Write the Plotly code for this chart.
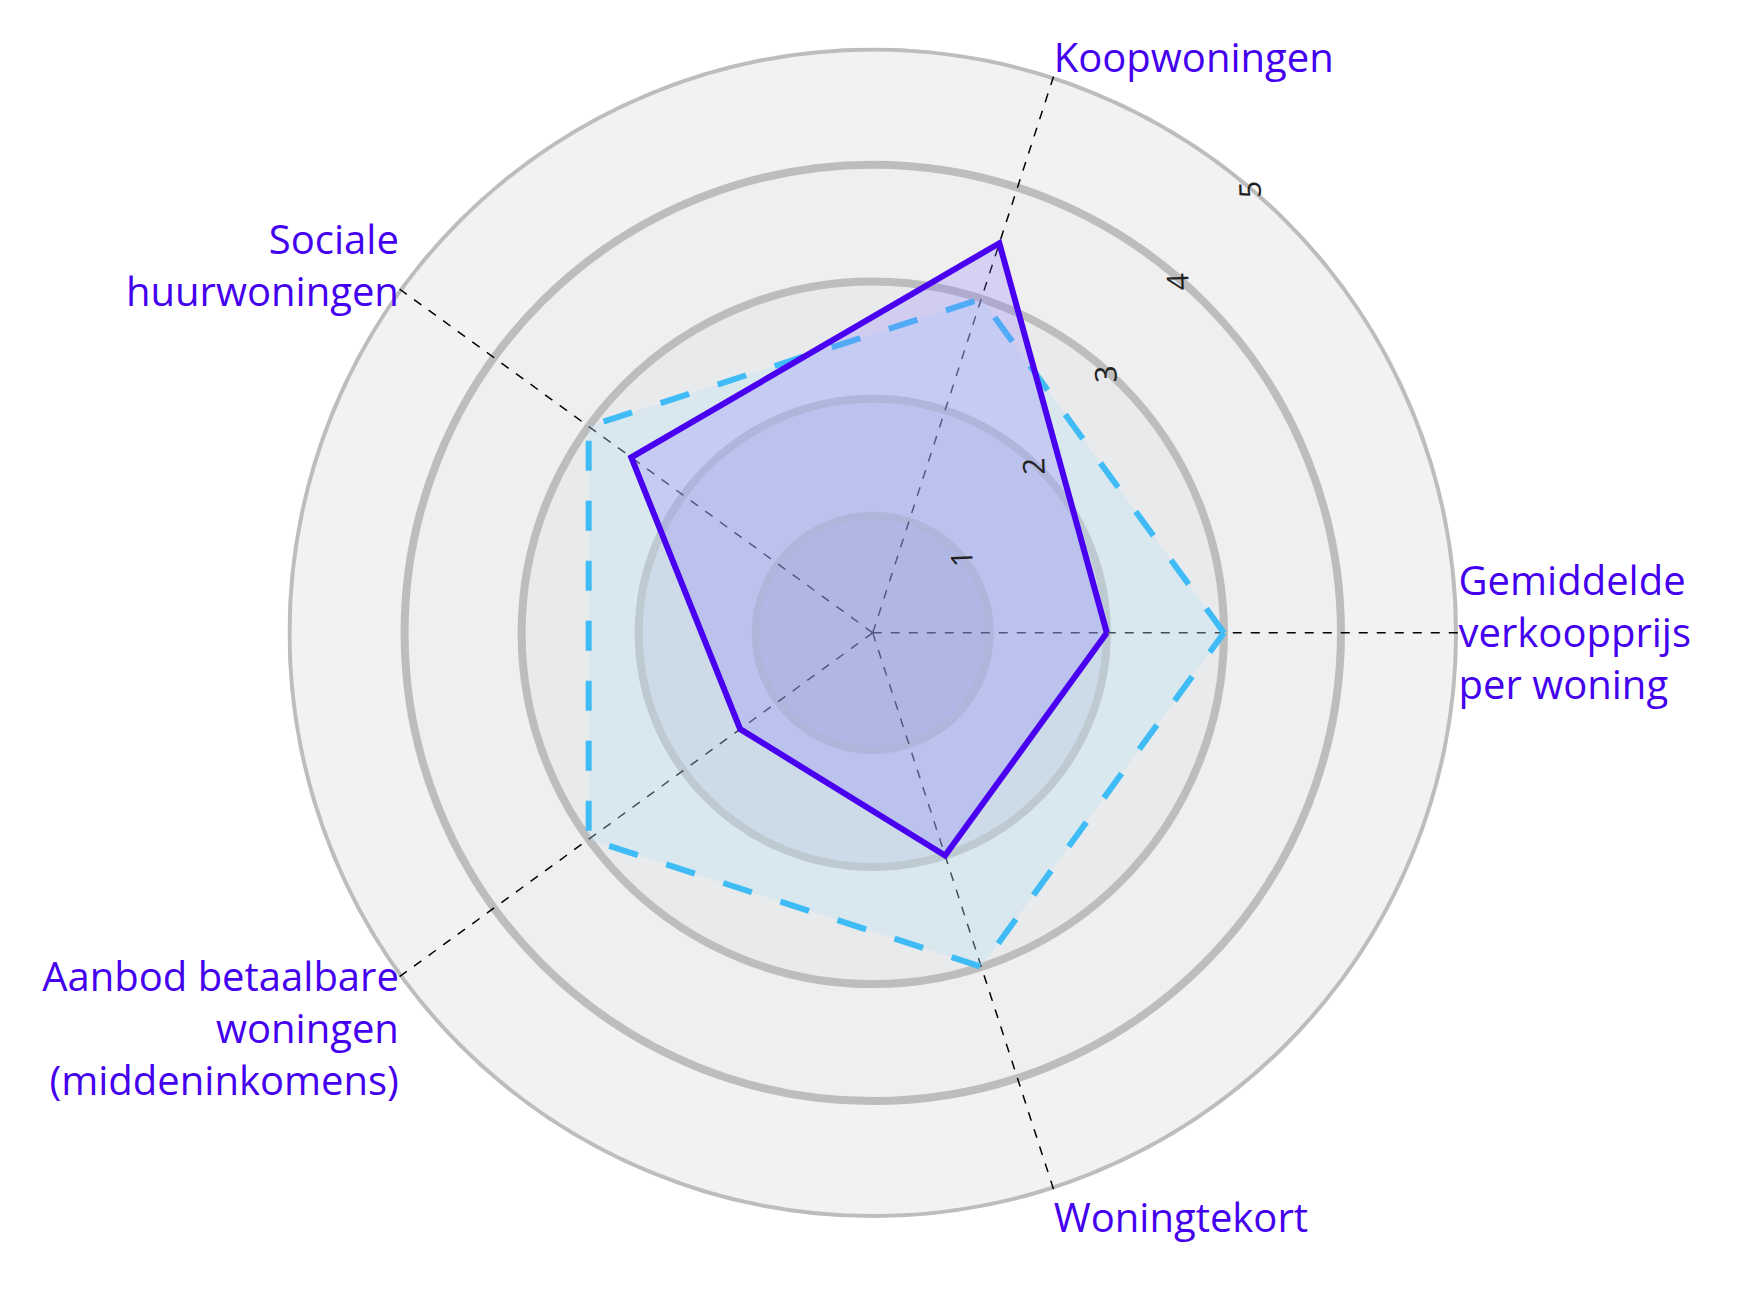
import plotly.graph_objects as go

categories = ["Gemiddelde<br>verkoopprijs<br>per woning", "Koopwoningen",
              "Sociale<br>huurwoningen", "Aanbod betaalbare<br>woningen<br>(middeninkomens)",
              "Woningtekort"]
solid_values = [2.0, 3.5, 2.55, 1.4, 2.0]
dashed_values = [3.0, 3.0, 3.0, 3.0, 3.0]
rings = [5, 4, 3, 2, 1]
ring_colors = ["#f2f2f2", "#efefef", "#e9eaec", "#d6d8e0", "#bfc0cf"]

angles = [0, 72, 144, 216, 288]

fig = go.Figure()

for r, c in zip(rings, ring_colors):
    fig.add_trace(go.Barpolar(
        r=[r], theta=[180], width=[360], base=0,
        marker=dict(color=c, line=dict(color="#bdbdbd", width=8)),
        hoverinfo="skip", showlegend=False,
    ))

# dashed spokes drawn over the rings
for a in angles:
    fig.add_trace(go.Scatterpolar(
        r=[0, max(rings)], theta=[a, a], mode="lines",
        line=dict(color="black", width=1.5, dash="dash"),
        hoverinfo="skip", showlegend=False,
    ))

fig.add_trace(go.Scatterpolar(
    r=dashed_values + dashed_values[:1], theta=angles + angles[:1],
    mode="lines", fill="toself", fillcolor="rgba(190,225,245,0.35)",
    line=dict(color="#3fbcf5", width=6, dash="longdash"), showlegend=False,
))
fig.add_trace(go.Scatterpolar(
    r=solid_values + solid_values[:1], theta=angles + angles[:1],
    mode="lines", fill="toself", fillcolor="rgba(140,120,255,0.25)",
    line=dict(color="#4a00f0", width=6), showlegend=False,
))

fig.update_layout(
    width=1747, height=1295,
    paper_bgcolor="white",
    margin=dict(l=0, r=0, t=0, b=0),
    font=dict(family="Open Sans"),
    polar=dict(
        domain=dict(x=[0.16, 0.83], y=[0.06, 0.975]),
        bgcolor="rgba(0,0,0,0)",
        barmode="overlay",
        angularaxis=dict(
            tickmode="array", tickvals=angles, ticktext=categories,
            rotation=0, direction="counterclockwise",
            showline=False, ticks="", showgrid=False,
            tickfont=dict(size=40, color="#4400ee"),
        ),
        radialaxis=dict(
            range=[0, 5], tickvals=[1, 2, 3, 4, 5],
            angle=52, tickangle=-40, showgrid=False, showline=False, ticks="",
            tickfont=dict(size=30, color="#222"),
        ),
    ),
)

fig.write_html("out.html")
